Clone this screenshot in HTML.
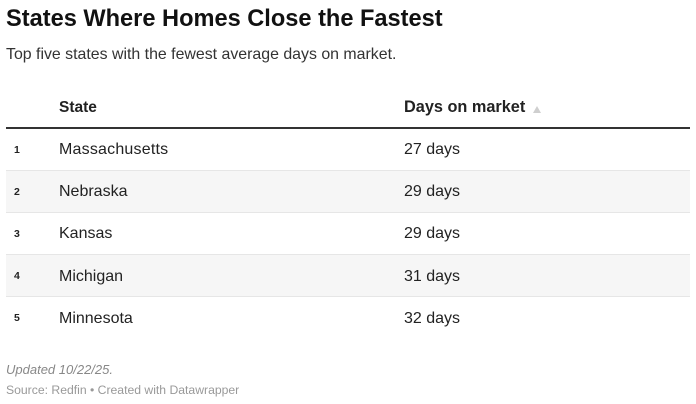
<!DOCTYPE html>
<html><head><meta charset="utf-8"><style>
html,body{margin:0;padding:0;background:#fff;}
body{width:696px;height:404px;position:relative;overflow:hidden;font-family:"Liberation Sans",Arial,sans-serif;color:#222;}
.t{position:absolute;white-space:nowrap;line-height:1;}
.title{left:6px;top:8px;font-size:23.6px;font-weight:bold;color:#111;}
.sub{left:6px;top:46.8px;font-size:15.9px;color:#333;}
.hd{top:100.2px;font-size:15.5px;font-weight:bold;color:#222;}
.hline{position:absolute;left:6px;width:684px;top:127px;height:2px;background:#333;}
.row{position:absolute;left:6px;width:684px;border-bottom:1px solid #e6e6e6;box-sizing:border-box;}
.row.g{background:#f6f6f6;}
.num{font-size:10.5px;font-weight:bold;color:#222;}
.cell{font-size:16px;color:#222;}
.upd{left:6px;top:363.3px;font-size:13px;font-style:italic;color:#888;}
.src{left:6px;top:384.3px;font-size:12.2px;color:#999;}
.tri{position:absolute;left:533px;top:106px;width:0;height:0;border-left:4.5px solid transparent;border-right:4.5px solid transparent;border-bottom:7px solid #cfcfcf;}
</style></head><body>
<div class="t title">States Where Homes Close the Fastest</div>
<div class="t sub">Top five states with the fewest average days on market.</div>
<div class="t hd" style="left:59px">State</div>
<div class="t hd" style="left:404px;font-size:16.3px;top:99.4px">Days on market</div>
<div class="tri"></div>
<div class="hline"></div>

<div class="row" style="top:129px;height:42px"></div>
<div class="row g" style="top:170px;height:43px;border-top:1px solid #e6e6e6"></div>
<div class="row" style="top:212px;height:43px"></div>
<div class="row g" style="top:254px;height:43px;border-top:1px solid #e6e6e6"></div>
<div class="row" style="top:297px;height:42px;border-bottom:none"></div>

<div class="t num" style="left:14px;top:144.6px">1</div>
<div class="t cell" style="left:59px;top:142px;letter-spacing:0.2px">Massachusetts</div>
<div class="t cell" style="left:404px;top:142px">27 days</div>

<div class="t num" style="left:14px;top:186.6px">2</div>
<div class="t cell" style="left:59px;top:184px">Nebraska</div>
<div class="t cell" style="left:404px;top:184px">29 days</div>

<div class="t num" style="left:14px;top:228.8px">3</div>
<div class="t cell" style="left:59px;top:226.2px">Kansas</div>
<div class="t cell" style="left:404px;top:226.2px">29 days</div>

<div class="t num" style="left:14px;top:271.1px">4</div>
<div class="t cell" style="left:59px;top:268.5px">Michigan</div>
<div class="t cell" style="left:404px;top:268.5px">31 days</div>

<div class="t num" style="left:14px;top:313.3px">5</div>
<div class="t cell" style="left:59px;top:310.7px">Minnesota</div>
<div class="t cell" style="left:404px;top:310.7px">32 days</div>

<div class="t upd">Updated 10/22/25.</div>
<div class="t src">Source: Redfin &#8226; Created with Datawrapper</div>
</body></html>
